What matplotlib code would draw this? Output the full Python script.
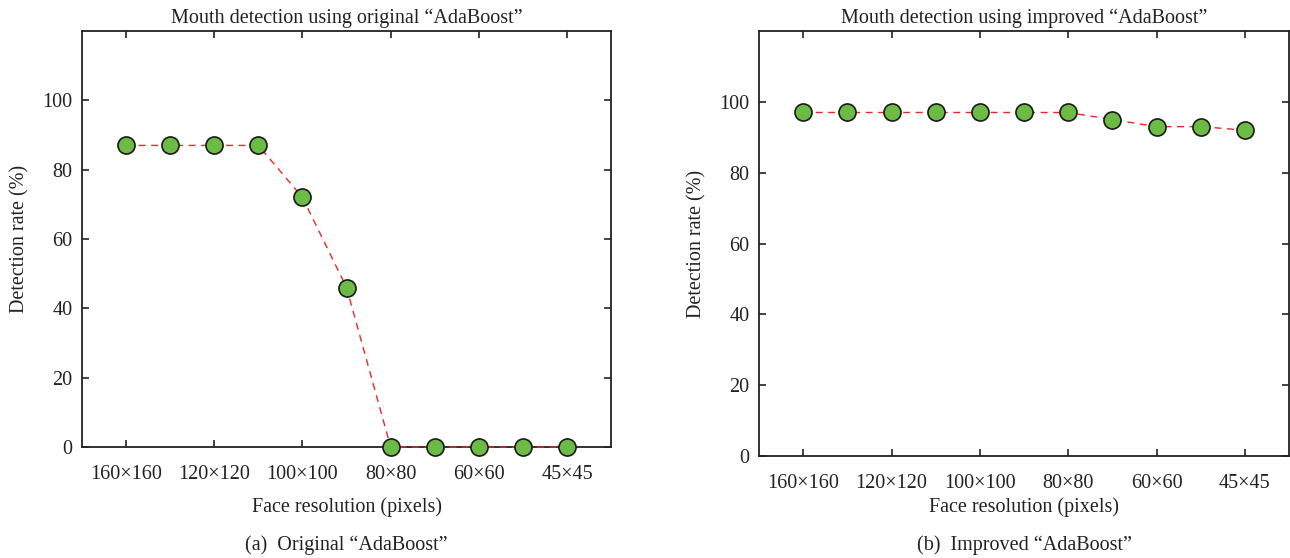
import matplotlib
matplotlib.use("Agg")
import matplotlib.pyplot as plt
import numpy as np

plt.rcParams['font.family'] = ['Liberation Serif', 'DejaVu Serif']
plt.rcParams['mathtext.fontset'] = 'stix'

resolutions = ["160×160", "140×140", "120×120", "110×110", "100×100", "90×90",
               "80×80", "70×70", "60×60", "50×50", "45×45"]
tick_labels = ["160×160", "120×120", "100×100", "80×80", "60×60", "45×45"]
original_rate = [87, 87, 87, 87, 72, 46, 0, 0, 0, 0, 0]
improved_rate = [97, 97, 97, 97, 97, 97, 97, 95, 93, 93, 92]
yticks = [0, 20, 40, 60, 80, 100]

titles = ["Mouth detection using original \u201cAdaBoost\u201d",
          "Mouth detection using improved \u201cAdaBoost\u201d"]
captions = ["(a)  Original \u201cAdaBoost\u201d", "(b)  Improved \u201cAdaBoost\u201d"]

fig = plt.figure(figsize=(12.9, 5.58), dpi=100)
rects = [[0.0636, 0.1989, 0.4101, 0.7455], [0.5884, 0.1828, 0.4109, 0.7616]]
series = [original_rate, improved_rate]
fs = 14.5
tc = '#222222'
H = 558.0

for i in range(2):
    ax = fig.add_axes(rects[i])
    x = np.arange(len(resolutions))
    ax.plot(x, series[i], linestyle=(0, (5, 4)), color='#e8262c', linewidth=1.0,
            marker='o', markersize=12.3, markerfacecolor='#6cbb45',
            markeredgecolor='#1a1a1a', markeredgewidth=1.2, clip_on=False, zorder=3)
    ax.set_xlim(-1, 11)
    ax.set_ylim(0, 120)
    ax.set_xticks(x[::2])
    ax.set_xticklabels(tick_labels)
    ax.set_yticks(yticks)
    ax.tick_params(direction='in', top=True, right=True, length=5, width=1.2,
                   labelsize=fs, colors=tc)
    ax.tick_params(axis='y', pad=7)
    ax.tick_params(axis='x', pad=13)
    for s in ax.spines.values():
        s.set_linewidth(1.3)
        s.set_color(tc)
    ax.set_title(titles[i], fontsize=fs, pad=6, color=tc)
    ax.set_ylabel("Detection rate (%)", fontsize=fs, color=tc, labelpad=9)
    ax.set_xlabel("Face resolution (pixels)", fontsize=fs, color=tc)
    bottom_px = H * (1 - rects[i][1])
    height_px = H * rects[i][3]
    ax.xaxis.set_label_coords(0.5, -(507 - bottom_px) / height_px)
    ax.xaxis.label.set_va('center')
    cx = rects[i][0] + rects[i][2] / 2
    fig.text(cx, 1 - 545 / H, captions[i], ha='center', va='center',
             fontsize=fs, color=tc)

fig.savefig("out.png", dpi=100)
